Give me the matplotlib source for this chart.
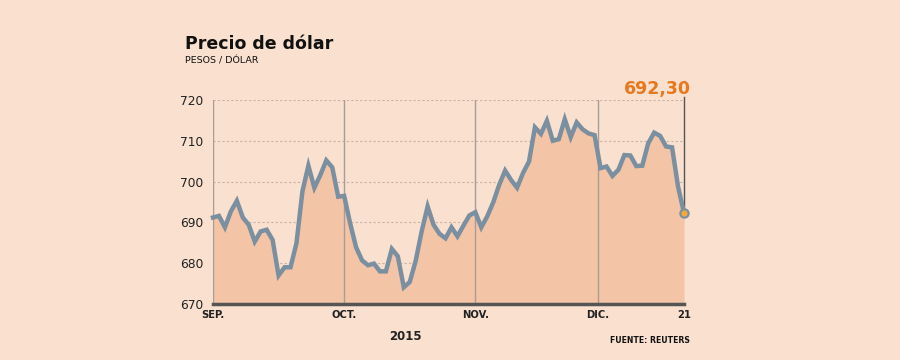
import matplotlib
matplotlib.use("Agg")
from matplotlib import pyplot as plt
import numpy as np

# dólar observado, pesos por dólar (sep - 21 dic 2015)
precio = [691.2, 691.6, 688.8, 692.7, 695.3, 691.2, 689.4, 685.3, 687.8, 688.2,
          685.7, 677.0, 679.0, 679.0, 684.9, 697.6, 703.9, 698.5, 701.6, 705.2,
          703.5, 696.3, 696.5, 689.8, 683.9, 680.7, 679.5, 679.9, 678.0, 678.0,
          683.5, 681.7, 674.1, 675.4, 680.6, 687.8, 693.9, 689.4, 687.2, 686.1,
          688.8, 686.6, 689.2, 691.7, 692.5, 688.8, 691.5, 694.9, 699.2, 702.7,
          700.4, 698.5, 702.1, 704.9, 713.3, 711.7, 714.9, 710.0, 710.4, 715.3,
          710.9, 714.5, 712.8, 711.8, 711.4, 703.3, 703.7, 701.4, 702.9, 706.5,
          706.4, 703.8, 703.9, 709.4, 712.0, 711.2, 708.6, 708.4, 698.8, 692.3]
mes_pos = [0, 22, 44, 64.6, 79]
mes_lab = ["SEP.", "OCT.", "NOV.", "DIC.", "21"]
y_ticks = [670, 680, 690, 700, 710, 720]
ultimo = "692,30"

bg = "#F9E0CF"
fill_c = "#F3C4A5"
line_c = "#7A8FA0"
orange = "#E8781E"
dark = "#555555"

plt.rcParams['font.family'] = ['DejaVu Sans']

fig = plt.figure(figsize=(9, 3.6), dpi=100, facecolor=bg)
ax = fig.add_axes([213/900, 1-304/360, 471/900, 204/360])
ax.set_facecolor(bg)

x = np.arange(len(precio))
ax.set_xlim(0, len(precio)-1)
ax.set_ylim(670, 720)

# grid
for yv in y_ticks[1:]:
    ax.axhline(yv, color="#C9B3A5", lw=0.8, ls=(0, (2, 2)), zorder=1)
for xv in mes_pos[:4]:
    ax.axvline(xv, color="#A89C94", lw=1.0, zorder=2)

ax.fill_between(x, 670, precio, color=fill_c, lw=0, zorder=1.5)
ax.plot(x, precio, color=line_c, lw=3.2, solid_joinstyle="miter", zorder=3, clip_on=False)

# ultimo valor
ax.plot([x[-1], x[-1]], [precio[-1], 720.7], color=dark, lw=1, zorder=2, clip_on=False)
ax.plot(x[-1], precio[-1], 'o', ms=6, mfc="#F2A93B", mec=line_c, mew=1.5, zorder=4, clip_on=False)
ax.text(x[-1]+1.1, 721.5, ultimo, color=orange, fontsize=12.5, fontweight="bold",
        ha="right", va="baseline")

for s in ["top", "right", "left"]:
    ax.spines[s].set_visible(False)
ax.spines["bottom"].set_color(dark)
ax.spines["bottom"].set_linewidth(2.5)
ax.spines["bottom"].set_zorder(5)

ax.set_yticks(y_ticks)
ax.set_yticklabels([str(v) for v in y_ticks], fontsize=8.8, color="#222222")
ax.tick_params(axis="y", length=0, pad=7)
ax.set_xticks(mes_pos)
ax.set_xticklabels(mes_lab, fontsize=7.2, fontweight="bold", color="#222222")
ax.tick_params(axis="x", length=0, pad=4)

fig.text(185/900, 1-49/360, "Precio de dólar", fontsize=12.5, fontweight="bold",
         color="#111111", va="baseline")
fig.text(185/900, 1-64/360, "PESOS / DÓLAR", fontsize=6.8, color="#111111", va="baseline")
fig.text(405/900, 1-340/360, "2015", fontsize=8.5, fontweight="bold", color="#222222",
         ha="center", va="baseline")
fig.text(690/900, 1-343/360, "FUENTE: REUTERS", fontsize=5.6, fontweight="bold",
         color="#111111", ha="right", va="baseline")

fig.savefig("out.png", dpi=100, facecolor=bg)
